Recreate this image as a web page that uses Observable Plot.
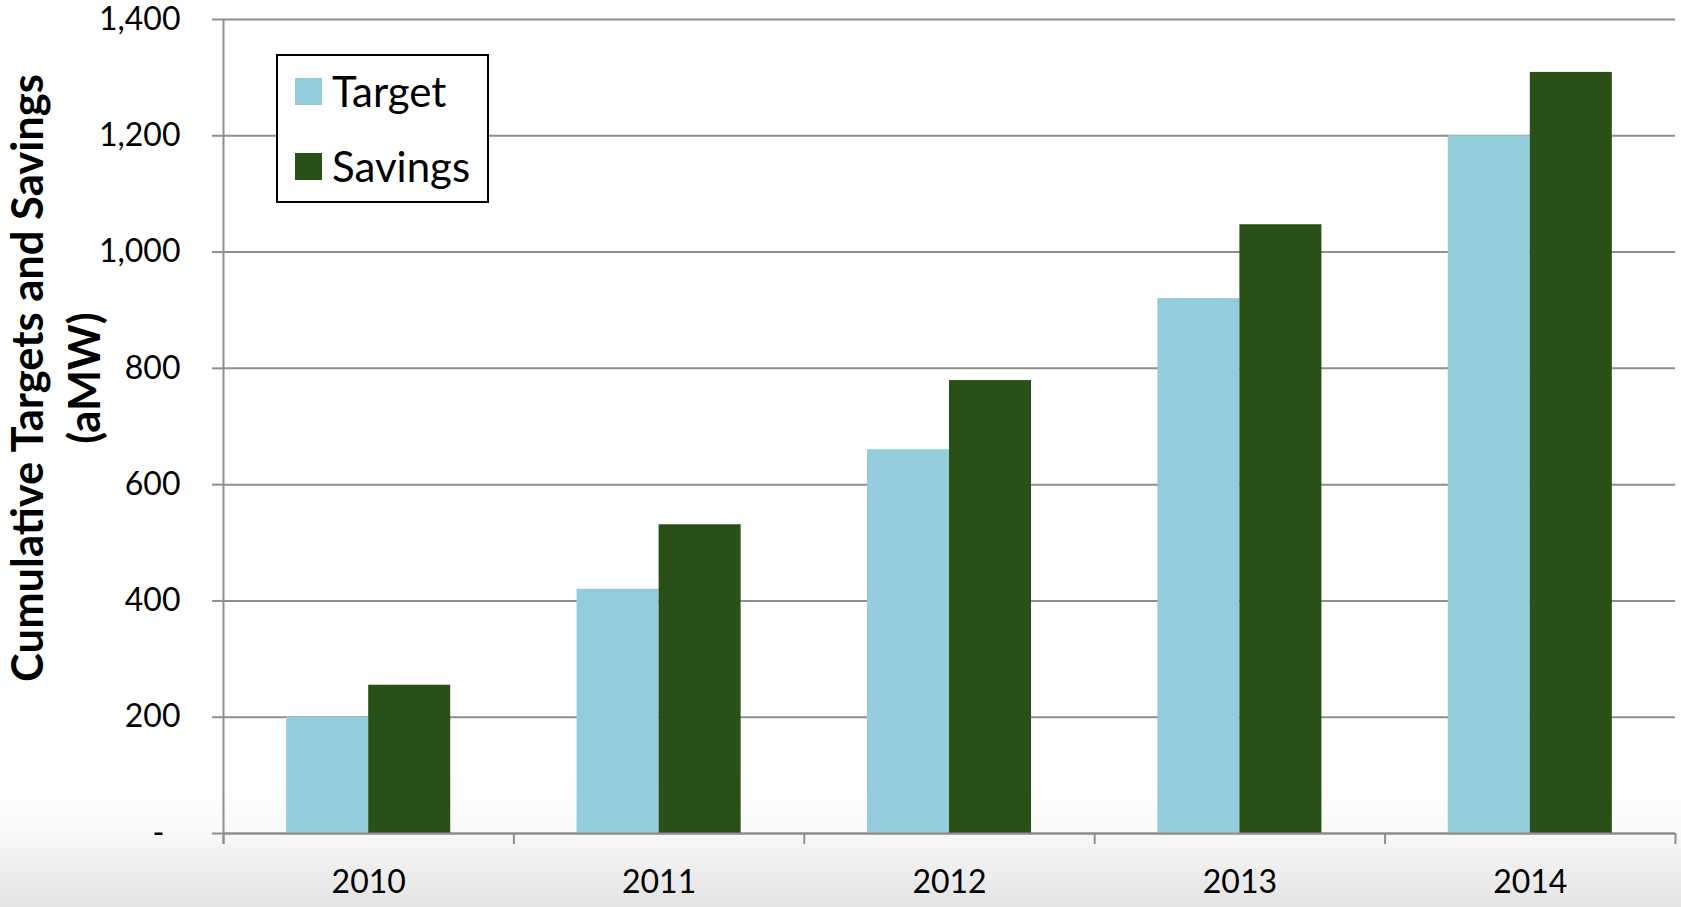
<!DOCTYPE html>
<html>
<head>
<meta charset="utf-8">
<script src="https://cdn.jsdelivr.net/npm/d3@7"></script>
<script src="https://cdn.jsdelivr.net/npm/@observablehq/plot@0.6"></script>
<style>
  html, body { margin: 0; padding: 0; overflow: hidden; }
  #wrap {
    position: relative; width: 1681px; height: 907px;
    background: linear-gradient(to bottom, #ffffff 0px, #ffffff 780px, #f9f9f9 830px, #e3e3e3 907px);
    font-family: Lato, "Liberation Sans", sans-serif;
  }
  #chart { position: absolute; left: 0; top: 0; }
  #ytitle {
    position: absolute; left: 55px; top: 378px; width: 760px;
    transform: translate(-50%, -50%) rotate(-90deg);
    text-align: center; font-weight: bold; font-size: 43.5px; line-height: 57px; color: #000;
    white-space: nowrap;
  }
  #legend {
    position: absolute; left: 276px; top: 54px; width: 209px; height: 145px;
    border: 2px solid #000; background: #fff; box-sizing: content-box;
  }
  .item { position: absolute; left: 17px; height: 50px; line-height: 50px; display: flex; align-items: center; font-size: 42px; color: #000; }
  .sw { width: 27px; height: 27px; margin-right: 10px; }
</style>
</head>
<body>
<div id="wrap">
  <div id="chart"></div>
  <div id="ytitle">Cumulative Targets and Savings<br>(aMW)</div>
  <div id="legend"></div>
</div>
<script>
// ---- data ----
const years = ["2010", "2011", "2012", "2013", "2014"];
const seriesNames = ["Target", "Savings"];
const target = [200, 420, 660, 920, 1200];
const savings = [255, 531, 779, 1047, 1309];
const yTicks = [0, 200, 400, 600, 800, 1000, 1200, 1400];
const colors = ["#93cddc", "#2a5018"];

// ---- layout constants ----
const groupPad = 0.2175; // empty share of each category on each side of the bar pair
const grey = "#8e8e8e";

const rows = [];
years.forEach((year, i) => {
  rows.push({i, year, series: "Target", value: target[i]});
  rows.push({i, year, series: "Savings", value: savings[i]});
});

const fmt = d3.format(",");

const plot = Plot.plot({
  width: 1681,
  height: 907,
  marginLeft: 223,
  marginRight: 6,
  marginTop: 19,
  marginBottom: 74,
  style: {background: "transparent", fontFamily: "Lato, 'Liberation Sans', sans-serif", fontSize: "32px", color: "#000", overflow: "visible"},
  x: {type: "linear", domain: [0, years.length]},
  y: {domain: [0, 1400]},
  color: {domain: seriesNames, range: colors},
  marks: [
    Plot.gridY({ticks: yTicks, stroke: grey, strokeOpacity: 1, strokeWidth: 2}),
    Plot.rectY(rows, {
      x1: d => d.i + (d.series === "Target" ? groupPad : 0.5),
      x2: d => d.i + (d.series === "Target" ? 0.5 : 1 - groupPad),
      y: "value",
      fill: "series"
    }),
    Plot.ruleY([0], {stroke: grey, strokeWidth: 2}),
    Plot.ruleX([0], {stroke: grey, strokeWidth: 2, insetBottom: -11}),
    Plot.axisY({
      ticks: yTicks, tickSize: 11, tickPadding: 32, label: null,
      stroke: grey, strokeWidth: 2, fill: "#000",
      tickFormat: d => d === 0 ? "-\u2002" : fmt(d)
    }),
    Plot.axisX({
      ticks: d3.range(years.length + 1), tickSize: 11, label: null,
      stroke: grey, strokeWidth: 2, tickFormat: () => ""
    }),
    Plot.axisX({
      ticks: years.map((y, i) => i + 0.5), tickSize: 0, tickPadding: 37, label: null,
      fill: "#000", fontSize: 32, tickFormat: d => years[Math.floor(d)]
    })
  ]
});
document.getElementById("chart").appendChild(plot);

// legend built from the series
const legend = document.getElementById("legend");
seriesNames.forEach((name, k) => {
  const item = document.createElement("div");
  item.className = "item";
  item.style.top = (k === 0 ? 10 : 85) + "px";
  const sw = document.createElement("span");
  sw.className = "sw";
  sw.style.background = colors[k];
  item.appendChild(sw);
  item.appendChild(document.createTextNode(name));
  legend.appendChild(item);
});
</script>
</body>
</html>
